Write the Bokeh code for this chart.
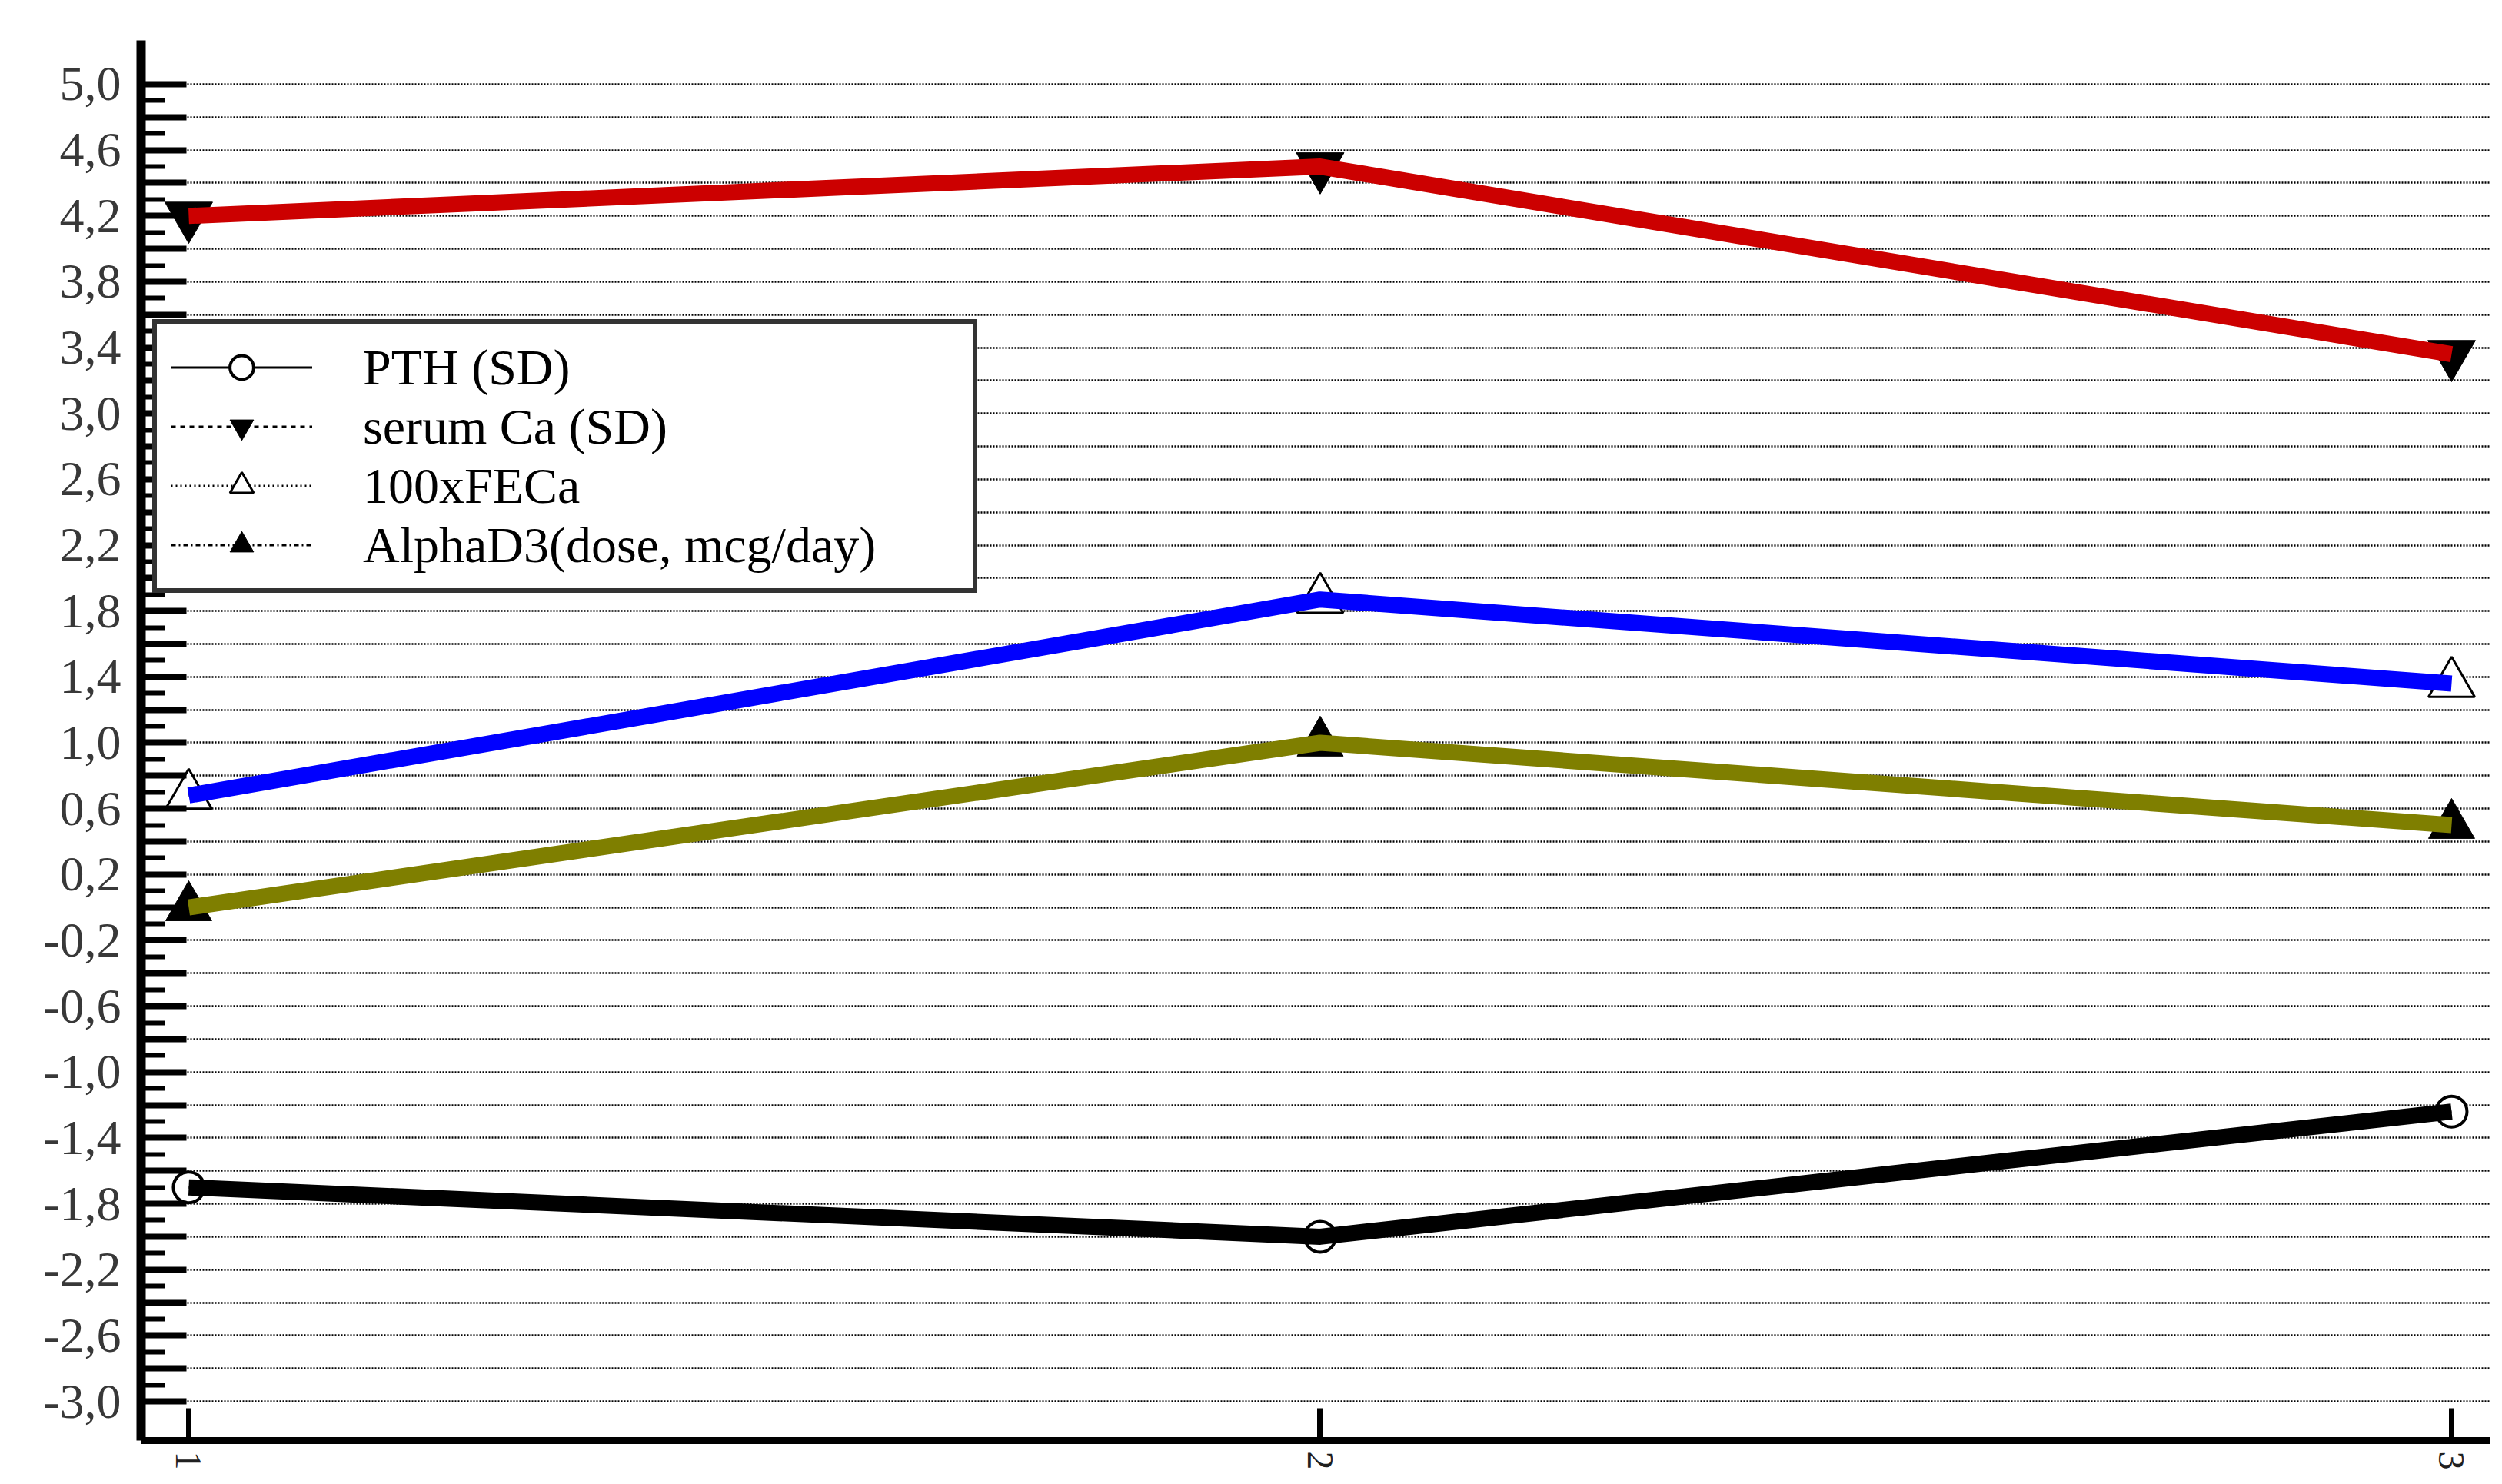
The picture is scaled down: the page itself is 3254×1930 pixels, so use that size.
from bokeh.plotting import figure
from bokeh.models import Range1d, FixedTicker, Legend, LegendItem, ColumnDataSource
from bokeh.embed import file_html
from bokeh.resources import INLINE

# ---- data ----
x_points = [1, 2, 3]
x_labels = ["1", "2", "3"]

pth = [-1.70, -2.00, -1.24]          # PTH (SD)
serum_ca = [4.20, 4.50, 3.36]        # serum Ca (SD)
fe_ca = [0.68, 1.87, 1.36]           # 100xFECa
alpha_d3 = [0.00, 1.00, 0.50]        # AlphaD3 (dose, mcg/day)

series_names = ["PTH (SD)", "serum Ca (SD)", "100xFECa", "AlphaD3(dose, mcg/day)"]

y_label_values = [5.0, 4.6, 4.2, 3.8, 3.4, 3.0, 2.6, 2.2, 1.8, 1.4, 1.0, 0.6,
                  0.2, -0.2, -0.6, -1.0, -1.4, -1.8, -2.2, -2.6, -3.0]
y_label_texts = ["5,0", "4,6", "4,2", "3,8", "3,4", "3,0", "2,6", "2,2", "1,8", "1,4", "1,0", "0,6",
                 "0,2", "-0,2", "-0,6", "-1,0", "-1,4", "-1,8", "-2,2", "-2,6", "-3,0"]

# ticks: major every 0.2, minor every 0.1 between -3.0 and 5.0
y_major = [round(-3.0 + 0.2 * i, 1) for i in range(41)]
y_minor = [round(-2.9 + 0.1 * i, 1) for i in range(79)]

SERIF = "Liberation Serif"

p = figure(width=3238, height=1914, output_backend="svg", toolbar_location=None,
           title=None,
           x_range=Range1d(0.9579, 3.034), y_range=Range1d(-3.238, 5.266),
           min_border_left=183, min_border_top=52, min_border_bottom=41, min_border_right=0)
p.outline_line_color = None
p.background_fill_color = "white"
p.border_fill_color = "white"

# ---- axes ----
yax = p.yaxis[0]
yticker = FixedTicker(ticks=y_major, minor_ticks=y_minor)
yax.ticker = yticker
overrides = {t: "" for t in y_major}
for v, s in zip(y_label_values, y_label_texts):
    overrides[round(v, 1)] = s
yax.major_label_overrides = overrides
yax.axis_line_width = 12
yax.axis_line_color = "black"
yax.major_tick_in = 59
yax.major_tick_out = 0
yax.major_tick_line_width = 8
yax.minor_tick_in = 31
yax.minor_tick_out = 0
yax.minor_tick_line_width = 6
yax.major_label_standoff = 26
yax.major_label_text_font = SERIF
yax.major_label_text_font_size = "64px"
yax.major_label_text_color = "#383838"

xax = p.xaxis[0]
xax.ticker = FixedTicker(ticks=x_points)
xax.major_label_overrides = {x: s for x, s in zip(x_points, x_labels)}
xax.major_label_orientation = "vertical"
xax.axis_line_width = 9
xax.axis_line_color = "black"
xax.major_tick_in = 42
xax.major_tick_out = 0
xax.major_tick_line_width = 7
xax.minor_tick_line_color = None
xax.major_label_standoff = 14
xax.major_label_text_font = SERIF
xax.major_label_text_font_size = "48px"
xax.major_label_text_color = "#202020"

# ---- grid ----
p.xgrid.visible = False
p.ygrid.ticker = yticker
p.ygrid.grid_line_color = "black"
p.ygrid.grid_line_width = 2.5
p.ygrid.grid_line_dash = "2 2"

# ---- series ----
specs = [
    (pth, "black", "circle", dict(size=40, fill_color="white", line_color="black", line_width=4), "solid"),
    (serum_ca, "#cc0000", "inverted_triangle", dict(size=62, fill_color="black", line_color="black", line_width=1), "dashed"),
    (fe_ca, "#0000ff", "triangle", dict(size=60, fill_color="white", line_color="black", line_width=3), "dotted"),
    (alpha_d3, "#7f7f00", "triangle", dict(size=60, fill_color="black", line_color="black", line_width=1), "dashdot"),
]

items = []
scatters = []
for ys, color, marker, mkw, dash in specs:
    src = ColumnDataSource(dict(x=x_points, y=ys))
    sc = p.scatter("x", "y", source=src, marker=marker, **mkw)
    thin = p.line("x", "y", source=src, line_color="black", line_width=3, line_dash=dash)
    scatters.append((sc, thin, src, color))

for (sc, thin, src, color), name in zip(scatters, series_names):
    p.line("x", "y", source=src, line_color=color, line_width=21, line_join="round")
    items.append(LegendItem(label=name, renderers=[thin, sc]))

legend = Legend(items=items, location=(15, 1102),
                glyph_width=184, glyph_height=77, label_height=77,
                label_standoff=66, label_width=775, padding=18, spacing=0, margin=0,
                label_text_font=SERIF, label_text_font_size="66px", label_text_color="black",
                border_line_color="#333333", border_line_width=6, border_line_alpha=1.0,
                background_fill_color="white", background_fill_alpha=1.0)
p.add_layout(legend, "center")

open("out.html", "w").write(file_html(p, INLINE))
